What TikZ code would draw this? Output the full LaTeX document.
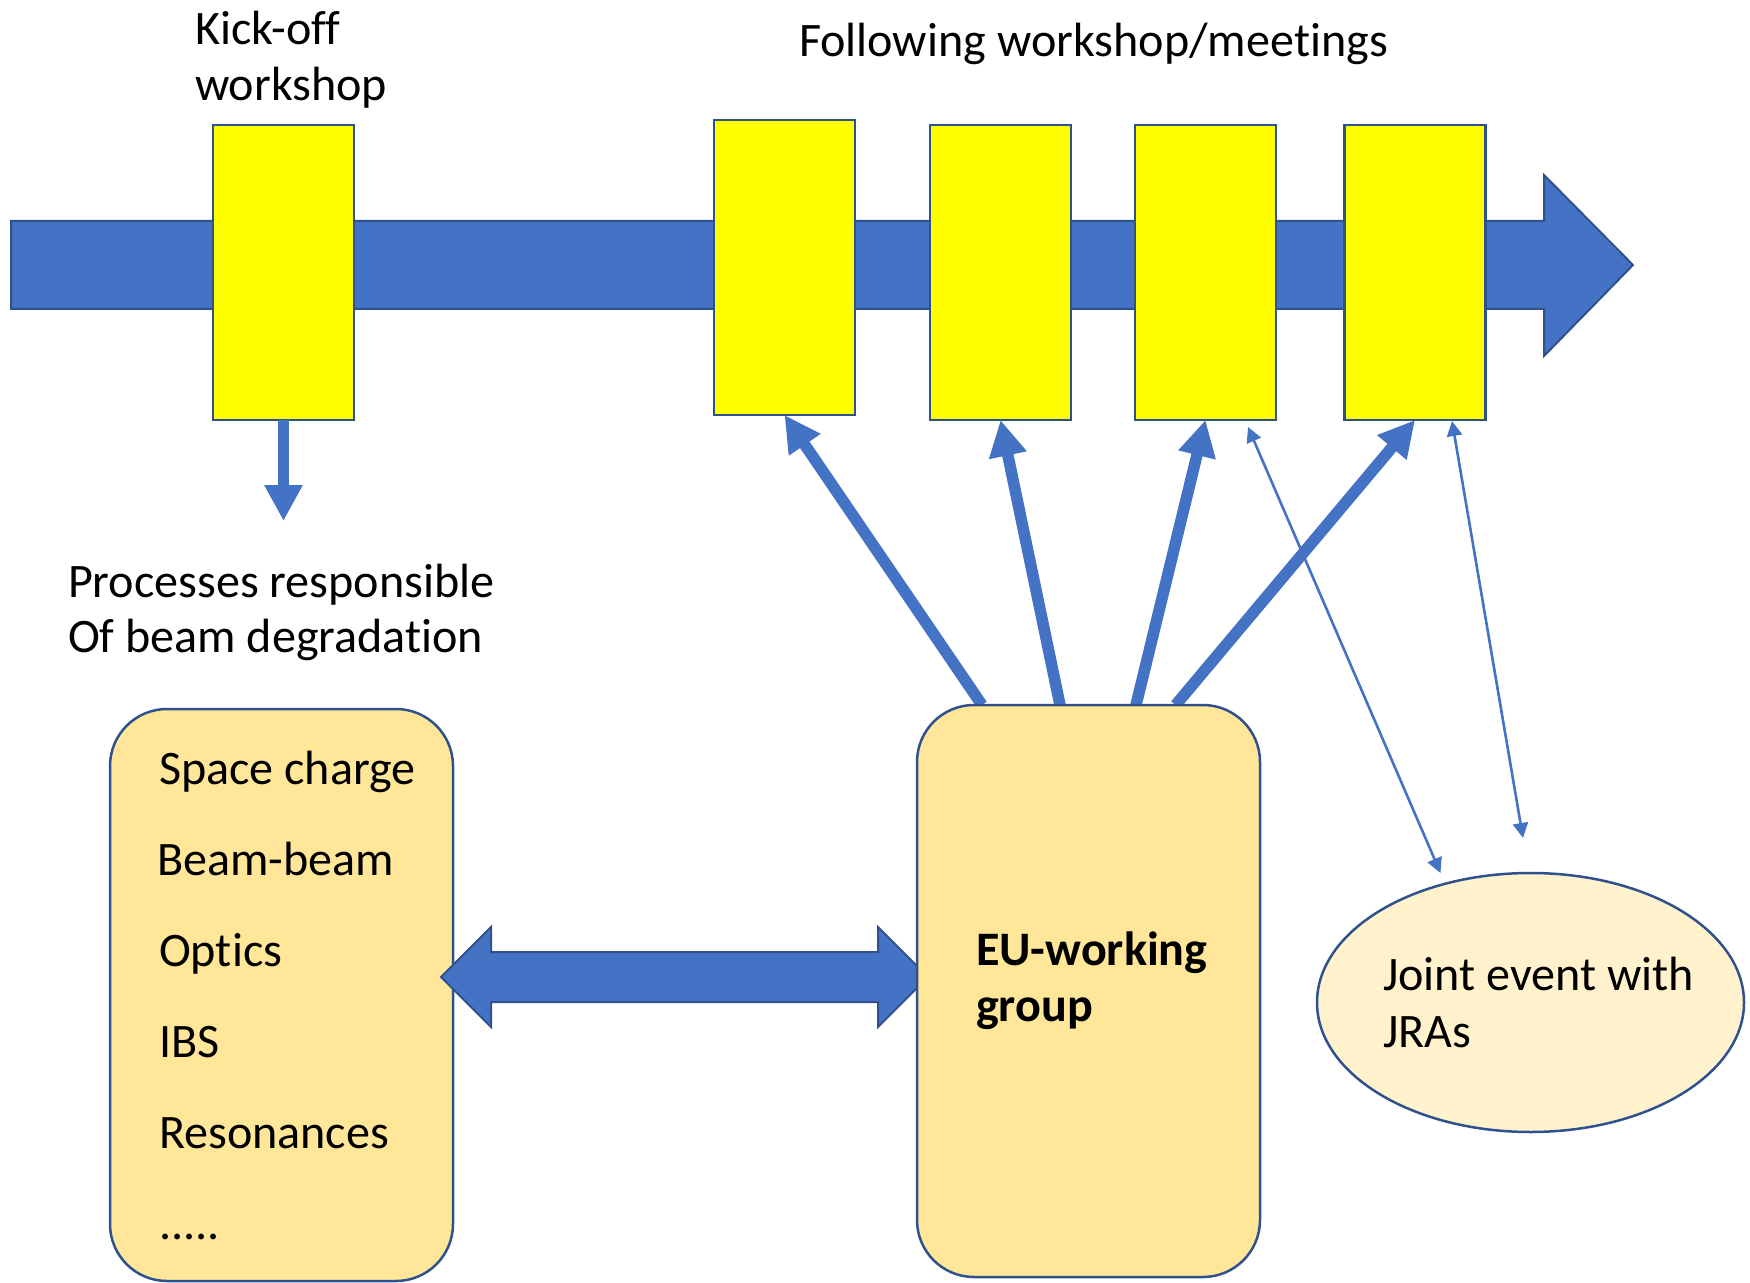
\documentclass[tikz,border=0pt]{standalone}
\usepackage{fontspec}
\setmainfont{Carlito}[Ligatures=NoCommon]
\usetikzlibrary{arrows.meta,calc,shapes.geometric}

\definecolor{ppblue}{HTML}{4472C4}
\definecolor{ppedge}{HTML}{2F528F}
\definecolor{ppyellow}{HTML}{FFFF00}
\definecolor{ppgold}{HTML}{FFE699}
\definecolor{ppcream}{HTML}{FFF2CC}

\pgfdeclarelayer{front}
\pgfsetlayers{main,front}

\begin{document}
\begin{tikzpicture}[x=0.5pt,y=-0.5pt,
  every node/.style={inner sep=0pt,outer sep=0pt},
  txt/.style={font=\fontsize{24.05}{28}\selectfont,anchor=base west},
  boldtxt/.style={txt,font=\fontsize{24.05}{28}\selectfont\bfseries},
  meeting/.style={draw=ppedge,line width=1.25pt,fill=ppyellow,
    minimum width=70.5pt,minimum height=147.5pt},
  panel/.style={draw=ppedge,line width=1.25pt,fill=ppgold,rounded corners=28.5pt,
    minimum width=171.5pt,minimum height=286pt},
  flow/.style={draw=ppedge,line width=1pt,fill=ppblue,line join=miter},
  feed/.style={draw=ppblue,line width=5.75pt,-{Triangle[length=18pt,width=18pt]}},
  link/.style={draw=ppblue,line width=1.3pt,
    {Triangle[length=7.5pt,width=7.5pt]}-{Triangle[length=7.5pt,width=7.5pt]}},
]
\useasboundingbox (0,0) rectangle (1750,1283);

% timeline arrow
\draw[flow] (11,221) -- (1544,221) -- (1544,175) -- (1633,265) -- (1544,356)
  -- (1544,309) -- (11,309) -- cycle;

% workshops on the timeline
\node[meeting] (kick) at (283.5,272.5) {};
\node[meeting] (m1) at (784.5,267.5) {};
\node[meeting] (m2) at (1000.5,272.5) {};
\node[meeting] (m3) at (1205.5,272.5) {};
\node[meeting] (m4) at (1415,272.5) {};

% labels above the timeline
\node[txt] (kickA) at (195,45) {Kick-off};
\node[txt] (kickB) at (195,101) {workshop};
\node[txt] (follow) at (799,57) {Following workshop/meetings};

% outcome of the kick-off workshop
\coordinate (kdown) at ($(kick.south)+(0,101)$);
\draw[feed] (kick.south) -- (kdown);
\node[txt] (procA) at (68,597) {Processes responsible};
\node[txt] (procB) at (68,652) {Of beam degradation};

% list of processes
\node[panel] (procs) at (281.5,995) {};
\node[txt] (p1) at (159,784) {Space charge};
\node[txt] (p2) at (157,875) {Beam-beam};
\node[txt] (p3) at (159,966) {Optics};
\node[txt] (p4) at (159,1057) {IBS};
\node[txt] (p5) at (159,1148) {Resonances};
\node[txt] (p6) at (159,1239) {.....};

% working group
\begin{pgfonlayer}{front}
\node[panel] (eu) at (1088.5,991) {};
\node[boldtxt] (euA) at (976,965) {EU-working};
\node[boldtxt] (euB) at (976,1021) {group};
\end{pgfonlayer}

% exchange between process list and working group
\coordinate (dl) at ($(procs.east)+(-12,-18)$);
\coordinate (dr) at ($(eu.west)+(11,-14)$);
\draw[flow] (dl) -- ++(50,-50) -- ++(0,25) -- ($(dr)+(-50,-25)$) -- ++(0,-25)
  -- (dr) -- ++(-50,50) -- ++(0,-25) -- ($(dl)+(50,25)$) -- ++(0,25) -- cycle;

% joint event
\node[ellipse,draw=ppedge,line width=1.25pt,fill=ppcream,
  minimum width=213.5pt,minimum height=129.5pt] (jra) at (1530.5,1002.5) {};
\node[txt] (jA) at (1383,990) {Joint event with};
\node[txt] (jB) at (1383,1047) {JRAs};

% working group feeds the following meetings
\coordinate (e1) at ($(eu.north west)+(65,0)$);
\coordinate (e2) at ($(eu.north west)+(143,0)$);
\coordinate (e3) at ($(eu.north west)+(219,0)$);
\coordinate (e4) at ($(eu.north west)+(258.6,0)$);
\draw[feed] (e1) -- (m1.south);
\draw[feed] (e2) -- (m2.south);
\draw[feed] (e3) -- (m3.south);
\draw[feed] (e4) -- (m4.south);

% links with the joint event
\coordinate (ja) at ($(m3.south east)+(-28,7)$);
\coordinate (jb) at ($(jra.north)+(-90,0)$);
\coordinate (jc) at ($(m4.south)+(37,1)$);
\coordinate (jd) at ($(jra.north)+(-7.5,-35)$);
\draw[link] (ja) -- (jb);
\draw[link] (jc) -- (jd);
\end{tikzpicture}
\end{document}
